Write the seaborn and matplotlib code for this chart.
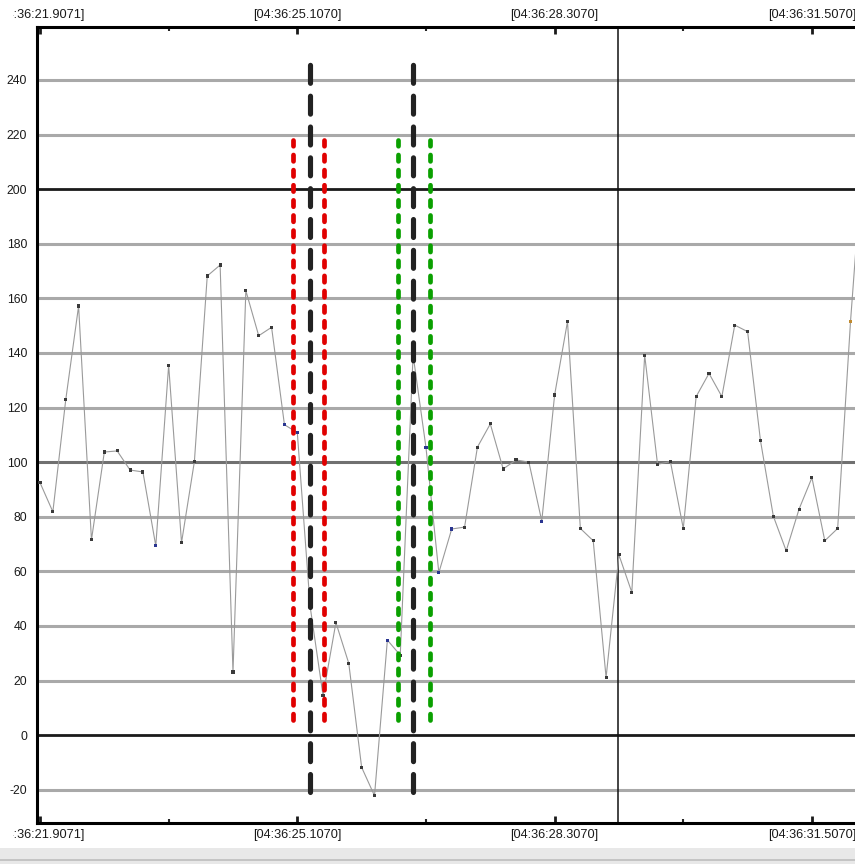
import matplotlib
matplotlib.use("Agg")
import matplotlib.pyplot as plt
import seaborn as sns
import numpy as np
import pandas as pd
from matplotlib.patches import Rectangle
from matplotlib.transforms import Bbox

# ---------------- data ----------------
start_time = 21.9071          # seconds after 04:36:00
sample_period = 0.16          # seconds between samples
values = [92.5, 81.8, 122.8, 157.2, 71.5, 103.7, 104.1, 97.1, 96.4, 69.3,
          135.5, 70.5, 100.2, 168.2, 172.2, 23.1, 162.8, 146.3, 149.4, 113.7,
          110.8, 47.0, 14.5, 41.2, 26.3, -11.8, -22.2, 34.8, 29.3, 139.2,
          105.4, 59.5, 75.5, 76.2, 105.5, 114.0, 97.5, 100.8, 100.0, 78.4,
          124.6, 151.5, 75.7, 71.2, 21.1, 66.0, 52.3, 139.2, 99.2, 100.2,
          75.7, 124.0, 132.5, 124.0, 150.2, 147.8, 107.9, 80.2, 67.5, 82.8,
          94.3, 71.2, 75.7, 151.6, 215.0]
point_kind = (["n"] * 9 + ["b"] + ["n"] * 9 + ["b", "b"] + ["n"] * 6 + ["b"]
              + ["n", "n"] + ["b", "b", "b"] + ["n"] * 6 + ["b"] + ["n"] * 23
              + ["o", "n"])
times = [start_time + sample_period * i for i in range(len(values))]

black_marks = [25.265, 26.550]
red_marks = [25.057, 25.445]
green_marks = [26.363, 26.757]
black_span = (-21.0, 246.5)
color_span = (5.5, 218.0)
cursor_time = 29.095

x_major = [21.9071, 25.1070, 28.3070, 31.5070]
x_major_labels = ["[04:36:21.9071]", "[04:36:25.1070]", "[04:36:28.3070]", "[04:36:31.5070]"]
x_minor = [23.507, 26.707, 29.907]
y_ticks = [-20, 0, 20, 40, 60, 80, 100, 120, 140, 160, 180, 200, 220, 240]

# ---------------- figure ----------------
sns.set_theme(style="white")
plt.rcParams['font.family'] = ['Liberation Sans', 'DejaVu Sans']

W, H = 855, 864
fig = plt.figure(figsize=(W / 100, H / 100), dpi=100)
fig.patch.set_facecolor("white")
# bottom status band
fig.patches.append(Rectangle((0, 0), 1, 16 / H, transform=fig.transFigure,
                             facecolor="#e8e8e8", edgecolor="none", zorder=0))
fig.patches.append(Rectangle((0, 3 / H), 1, 2 / H, transform=fig.transFigure,
                             facecolor="#c4c4c4", edgecolor="none", zorder=0))

ax = fig.add_axes([37 / W, 41 / H, 818 / W, 796 / H])
ax.set_facecolor("white")

# horizontal grid lines
for v in y_ticks:
    if v in (0, 200):
        c, lw = "#1a1a1a", 2.0
    elif v == 100:
        c, lw = "#707070", 2.2
    else:
        c, lw = "#a9a9a9", 2.2
    ax.axhline(v, color=c, lw=lw, zorder=1)

# cursor line
ax.axvline(cursor_time, color="#111111", lw=1.1, zorder=2)

df = pd.DataFrame({"t": times, "v": values, "kind": point_kind})
sns.lineplot(data=df, x="t", y="v", color="#9a9a9a", lw=0.8, ax=ax, zorder=3,
             estimator=None, sort=False)
sns.scatterplot(data=df, x="t", y="v", hue="kind",
                palette={"n": "#3a3a3a", "b": "#2a3590", "o": "#c08a30"},
                marker="s", s=5, linewidth=0, ax=ax, zorder=4, legend=False)

# dashed markers
for xs, col in ((red_marks, "#e00000"), (green_marks, "#0aa000")):
    lc = ax.vlines(xs, *color_span, colors=col, lw=3.4,
                   linestyles=[(0, (1.35, 1.85))], zorder=5)
    lc.set_capstyle("round")
lc = ax.vlines(black_marks, *black_span, colors="#222222", lw=3.7,
               linestyles=[(0, (3.5, 2.5))], zorder=6)
lc.set_capstyle("round")

ax.set_xlim(21.8698, 32.0427)
ax.set_ylim(-32.2, 259.4)

ax.set_xticks(x_major)
ax.set_xticklabels(x_major_labels)
ax.set_xticks(x_minor, minor=True)
ax.set_yticks(y_ticks)
ax.set_yticklabels([str(v) for v in y_ticks])
ax.set_xlabel("")
ax.set_ylabel("")

ax.tick_params(axis="x", which="major", direction="in", length=5, width=2,
               top=True, bottom=True, labeltop=True, labelbottom=True,
               labelsize=9.2, colors="#1a1a1a", pad=4)
ax.tick_params(axis="x", which="minor", direction="in", length=3, width=1.5,
               top=True, bottom=True)
ax.tick_params(axis="y", which="both", length=0, labelsize=8.8,
               colors="#1a1a1a", pad=7)

# the host panel clips the leftmost label a little right of the figure edge
clip = Bbox([[13, 0], [W, H]])
for tick in ax.xaxis.get_major_ticks():
    for lab in (tick.label1, tick.label2):
        lab.set_clip_box(clip)
        lab.set_clip_on(True)

for side in ("left", "top", "bottom"):
    ax.spines[side].set_visible(True)
    ax.spines[side].set_color("black")
    ax.spines[side].set_linewidth(2.2)
ax.spines["right"].set_visible(False)
ax.grid(False)

fig.savefig("out.png", dpi=100)
